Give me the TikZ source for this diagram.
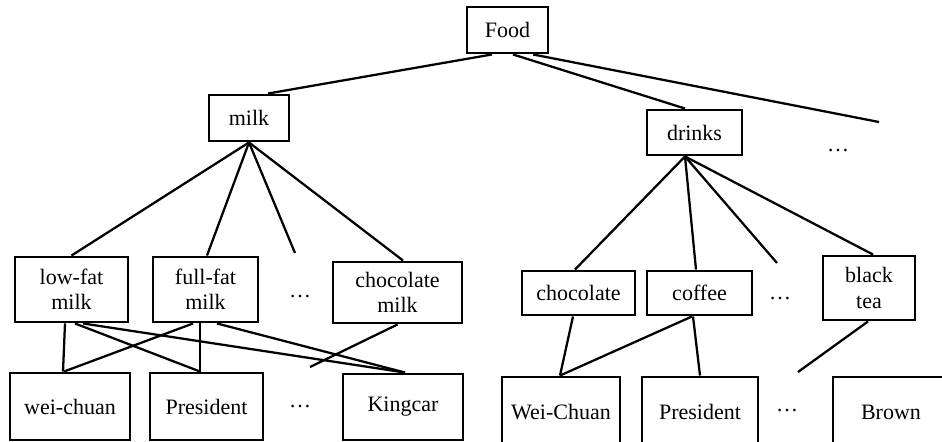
\documentclass[tikz,border=0pt]{standalone}
\usepackage{fontspec}
\setmainfont{Liberation Serif}
\usetikzlibrary{calc}

\begin{document}
\begin{tikzpicture}[x=0.75pt, y=-0.75pt,
        box/.style={draw, rectangle, line width=2.2pt, inner sep=0pt, align=center, font=\fontsize{16.5}{19}\selectfont},
        link/.style={line width=1.7pt},
        dots/.style={inner sep=0pt, font=\fontsize{16.5}{19}\selectfont}
    ]
        \clip (0,0) rectangle (942,442);

        % top levels
        \node[box, minimum width=60.75pt, minimum height=34.5pt] (food) at (507.5,30) {Food};
        \node[box, minimum width=60pt, minimum height=34.5pt] (milk) at (249,118) {milk};
        \node[box, minimum width=71.25pt, minimum height=33.75pt] (drinks) at (694.5,132.5) {drinks};
        \node[dots] (dotsA) at (838,151) {\ldots};

        % milk kinds
        \node[box, minimum width=84.75pt, minimum height=48.75pt] (lowfat) at (71.5,289.5) {low-fat\\milk};
        \node[box, minimum width=78.75pt, minimum height=48.75pt] (fullfat) at (205.5,289.5) {full-fat\\milk};
        \node[dots] (dotsB) at (300,297) {\ldots};
        \node[box, minimum width=96.75pt, minimum height=45.75pt] (chocmilk) at (397.5,292.5) {chocolate\\milk};

        % drink kinds
        \node[box, minimum width=84.75pt, minimum height=33pt] (choc) at (578.5,293) {chocolate};
        \node[box, minimum width=78.75pt, minimum height=33pt] (coffee) at (699.5,293) {coffee};
        \node[dots] (dotsC) at (780,299) {\ldots};
        \node[box, minimum width=69pt, minimum height=48pt] (blacktea) at (869,288) {black\\tea};

        % brands
        \node[box, minimum width=90pt, minimum height=50.25pt] (weichuan) at (70,406.5) {wei-chuan};
        \node[box, minimum width=84.75pt, minimum height=50.25pt] (presA) at (206.5,406.5) {President};
        \node[dots] (dotsD) at (300,407) {\ldots};
        \node[box, minimum width=90pt, minimum height=49.5pt] (kingcar) at (403,407) {Kingcar};

        \node[box, minimum width=88.5pt, minimum height=52.5pt] (WeiChuan) at (561,412) {Wei-Chuan};
        \node[box, minimum width=87pt, minimum height=52.5pt] (presB) at (700,412) {President};
        \node[dots] (dotsE) at (787,411) {\ldots};
        \node[box, minimum width=87pt, minimum height=52.5pt] (brown) at (891,412) {Brown};

        % loose ends
        \coordinate (endA) at (879,122);
        \coordinate (endB) at (295,253);
        \coordinate (endC) at (310,367);
        \coordinate (endD) at (777,263);
        \coordinate (endE) at (798,372);

        \draw[link] ($(food.south)+(-15.5,0)$) -- ($(milk.north)+(19,0)$);
        \draw[link] ($(food.south)+(5.5,0)$) -- ($(drinks.north)+(-9.5,0)$);
        \draw[link] ($(food.south)+(25.5,0)$) -- (endA);

        \draw[link] (milk.south) -- (lowfat.north);
        \draw[link] (milk.south) -- ($(fullfat.north)+(1.5,0)$);
        \draw[link] (milk.south) -- (endB);
        \draw[link] (milk.south) -- ($(chocmilk.north)+(5.5,0)$);

        \draw[link] ($(lowfat.south)+(-6.5,0)$) -- ($(weichuan.north)+(-7,0)$);
        \draw[link] ($(lowfat.south)+(3.5,0)$) -- ($(presA.north)+(-6.5,0)$);
        \draw[link] ($(lowfat.south)+(11.5,0)$) -- ($(kingcar.north)+(2,0)$);
        \draw[link] ($(fullfat.south)+(-12.5,0)$) -- ($(weichuan.north)+(-6,0)$);
        \draw[link] ($(fullfat.south)+(-5.5,0)$) -- ($(presA.north)+(-6.5,0)$);
        \draw[link] ($(fullfat.south)+(11.5,0)$) -- ($(kingcar.north)+(2,0)$);
        \draw[link] (chocmilk.south) -- (endC);

        \draw[link] ($(drinks.south)+(-9.5,0)$) -- ($(choc.north)+(-3.5,0)$);
        \draw[link] ($(drinks.south)+(-9.5,0)$) -- ($(coffee.north)+(-3.5,0)$);
        \draw[link] ($(drinks.south)+(-9.5,0)$) -- (endD);
        \draw[link] ($(drinks.south)+(-9.5,0)$) -- ($(blacktea.north)+(4,0)$);

        \draw[link] ($(choc.south)+(-5.5,0)$) -- ($(WeiChuan.north)+(-1,0)$);
        \draw[link] ($(coffee.south)+(-7.5,0)$) -- ($(WeiChuan.north)+(-1,0)$);
        \draw[link] ($(coffee.south)+(-6.5,0)$) -- (presB.north);
        \draw[link] ($(blacktea.south)+(-1,0)$) -- (endE);
    \end{tikzpicture}
\end{document}
